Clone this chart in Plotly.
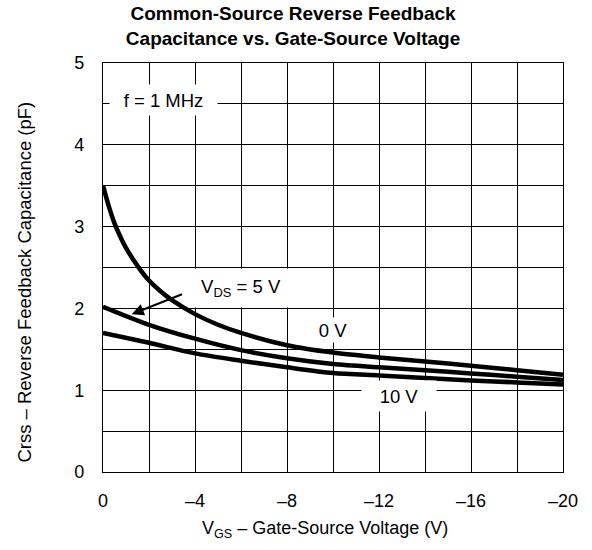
import plotly.graph_objects as go

# ---- data ----
vgs_0v = [0, -0.25, -0.5, -0.75, -1, -1.5, -2, -2.5, -3, -4, -5, -6, -8, -10, -12, -14, -16, -18, -20]
crss_0v = [3.50, 3.25, 3.04, 2.88, 2.74, 2.52, 2.34, 2.21, 2.10, 1.93, 1.80, 1.70, 1.55, 1.46, 1.40, 1.35, 1.30, 1.245, 1.19]

vgs_5v = [0, -2, -4, -6, -8, -10, -12, -14, -16, -18, -20]
crss_5v = [2.02, 1.80, 1.63, 1.49, 1.39, 1.32, 1.28, 1.245, 1.205, 1.165, 1.125]

vgs_10v = [0, -2, -4, -6, -8, -10, -12, -14, -16, -18, -20]
crss_10v = [1.70, 1.58, 1.45, 1.36, 1.28, 1.21, 1.18, 1.15, 1.12, 1.095, 1.07]

x_ticks = [0, -4, -8, -12, -16, -20]
x_labels = ["0", "–4", "–8", "–12", "–16", "–20"]
y_ticks = [0, 1, 2, 3, 4, 5]
y_labels = ["0", "1", "2", "3", "4", "5"]

FONT = "Liberation Sans, Arial, Helvetica, sans-serif"

fig = go.Figure()
for xs, ys in [(vgs_0v, crss_0v), (vgs_5v, crss_5v), (vgs_10v, crss_10v)]:
    fig.add_trace(go.Scatter(x=xs, y=ys, mode="lines",
                             line=dict(color="black", width=4.5, shape="spline", smoothing=0.8),
                             showlegend=False, hoverinfo="skip"))

axis_common = dict(showgrid=True, gridcolor="black", gridwidth=1.2, showline=True,
                   linecolor="black", linewidth=1.2, mirror=True, zeroline=False,
                   automargin=False, layer="below traces",
                   ticks="", tickfont=dict(family=FONT, size=18, color="black"))

fig.update_xaxes(range=[0, -20], tickmode="array", tickvals=x_ticks, ticktext=x_labels,
                 ticklabelstandoff=12,
                 minor=dict(dtick=2, tick0=0, showgrid=True, gridcolor="black", gridwidth=1.2, ticks=""),
                 **axis_common)
fig.update_yaxes(range=[0, 5], tickmode="array", tickvals=y_ticks, ticktext=y_labels,
                 ticklabelstandoff=14,
                 minor=dict(dtick=0.5, tick0=0, showgrid=True, gridcolor="black", gridwidth=1.2, ticks=""),
                 **axis_common)

ann_font = dict(family=FONT, size=18.5, color="black")
annotations = [
    dict(x=-2.63, y=4.55, text="f = 1 MHz", showarrow=False, bgcolor="white",
         width=105, height=28, font=ann_font),
    dict(x=-6.0, y=2.25, text="V<sub>DS</sub> = 5 V", showarrow=False, bgcolor="white",
         width=100, height=36, font=ann_font),
    dict(x=-10.0, y=1.73, text="0 V", showarrow=False, bgcolor="white",
         width=36, height=22, font=ann_font),
    dict(x=-12.87, y=0.93, text="10 V", showarrow=False, bgcolor="white",
         width=72, height=28, font=ann_font),
    dict(x=-1.25, y=1.93, ax=-3.5, ay=2.18, axref="x", ayref="y", text="",
         showarrow=True, arrowhead=2, arrowsize=1.2, arrowwidth=2, arrowcolor="black"),
    # axis titles
    dict(xref="paper", yref="paper", x=0.483, y=-0.141, text="V<sub>GS</sub> – Gate-Source Voltage (V)",
         showarrow=False, font=dict(family=FONT, size=18, color="black"),
         xanchor="center", yanchor="middle"),
    dict(xref="paper", yref="paper", x=-0.170, y=0.465, text="Crss – Reverse Feedback Capacitance (pF)",
         showarrow=False, textangle=-90, font=dict(family=FONT, size=18.5, color="black"),
         xanchor="center", yanchor="middle"),
]

fig.update_layout(
    width=592, height=550,
    margin=dict(l=103, r=29, t=63, b=78),
    paper_bgcolor="white", plot_bgcolor="white",
    title=dict(text="<b>Common-Source Reverse Feedback<br>Capacitance vs. Gate-Source Voltage</b>",
               x=0.495, xref="container", xanchor="center", y=0.964, yanchor="top",
               pad=dict(t=0, b=0, l=0, r=0),
               font=dict(family=FONT, size=19, color="black")),
    annotations=annotations,
)

# remove the default page margin so the 592x550 figure fills the window exactly
fig.write_html("out.html", config={"displayModeBar": False},
               post_script="document.body.style.margin='0';document.body.style.overflow='hidden';")
